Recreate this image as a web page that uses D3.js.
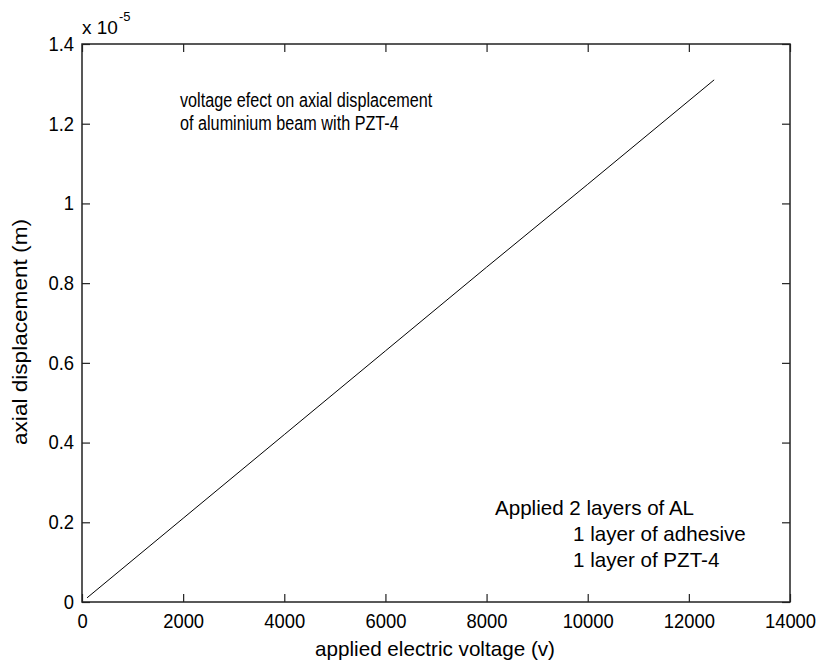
<!DOCTYPE html>
<html>
<head>
<meta charset="utf-8">
<script src="https://cdn.jsdelivr.net/npm/d3@7"></script>
<style>
  html, body { margin: 0; padding: 0; background: #fff; }
  svg { display: block; font-family: "Liberation Sans", Arial, sans-serif; }
  .tick text { fill: #000; }
</style>
</head>
<body>
<svg id="chart" width="820" height="664"></svg>
<script>
(function(){

const WIDTH = 820, HEIGHT = 664;
const margin = {left: 82, top: 44, right: 30, bottom: 62};

// data (voltage in V, displacement in units of 1e-5 m)
const voltage = [100, 2000, 4000, 6000, 8000, 10000, 12500];
const displacement = [0.0105, 0.21, 0.42, 0.63, 0.84, 1.048, 1.31];

const xTicks = [0, 2000, 4000, 6000, 8000, 10000, 12000, 14000];
const yTicks = [0, 0.2, 0.4, 0.6, 0.8, 1, 1.2, 1.4];

const titleLines = ['voltage efect on axial displacement', 'of aluminium beam with PZT-4'];
const noteLines = ['Applied 2 layers of AL', '1 layer of adhesive', '1 layer of PZT-4'];

const svg = d3.select('#chart');
const w = WIDTH - margin.left - margin.right;
const h = HEIGHT - margin.top - margin.bottom;

const x = d3.scaleLinear().domain([0, 14000]).range([margin.left, margin.left + w]);
const y = d3.scaleLinear().domain([0, 1.4]).range([margin.top + h, margin.top]);

const fmtY = d => d === 0 ? '0' : String(+d.toFixed(1));
const TICK = 8, FS = 20;

// the original font is a narrow bitmap one: squeeze text horizontally
function squeeze(sel, k){
  sel.each(function(){
    const len = this.getComputedTextLength();
    d3.select(this).attr('textLength', len * k).attr('lengthAdjust', 'spacingAndGlyphs');
  });
}

function styleAxis(g){
  g.select('.domain').remove();
  g.selectAll('.tick line').attr('stroke', '#222').attr('stroke-width', 1.2);
  g.selectAll('.tick text').style('font-size', FS + 'px').call(squeeze, 0.92);
}

// bottom and top
svg.append('g').attr('transform', `translate(0,${margin.top + h})`)
  .call(d3.axisBottom(x).tickValues(xTicks).tickSize(-TICK).tickPadding(12).tickFormat(d3.format('d')))
  .call(styleAxis);
svg.append('g').attr('transform', `translate(0,${margin.top})`)
  .call(d3.axisTop(x).tickValues(xTicks).tickSize(-TICK).tickFormat(''))
  .call(styleAxis);
// left and right
svg.append('g').attr('transform', `translate(${margin.left},0)`)
  .call(d3.axisLeft(y).tickValues(yTicks).tickSize(-TICK).tickPadding(8).tickFormat(fmtY))
  .call(styleAxis);
svg.append('g').attr('transform', `translate(${margin.left + w},0)`)
  .call(d3.axisRight(y).tickValues(yTicks).tickSize(-TICK).tickFormat(''))
  .call(styleAxis);

// box
svg.append('rect')
  .attr('x', margin.left).attr('y', margin.top)
  .attr('width', w).attr('height', h)
  .attr('fill', 'none').attr('stroke', '#222').attr('stroke-width', 1.5);

// line
const line = d3.line().x((d, i) => x(voltage[i])).y(d => y(d));
svg.append('path')
  .datum(displacement)
  .attr('d', line)
  .attr('fill', 'none')
  .attr('stroke', '#000')
  .attr('stroke-width', 1);

// exponent label
const ex = svg.append('text').attr('x', margin.left).attr('y', 34)
  .style('font-size', '19px');
ex.append('tspan').text('x 10');
ex.append('tspan').attr('dy', -13).attr('dx', 1).style('font-size', '13px').text('-5');

// axis labels
svg.append('text')
  .attr('x', margin.left + w / 2 - 1).attr('y', 656)
  .attr('text-anchor', 'middle').style('font-size', '21px')
  .attr('textLength', 240).attr('lengthAdjust', 'spacingAndGlyphs')
  .text('applied electric voltage (v)');
svg.append('text')
  .attr('transform', `translate(27,${margin.top + h / 2 + 9}) rotate(-90)`)
  .attr('text-anchor', 'middle').style('font-size', '20px')
  .attr('textLength', 226).attr('lengthAdjust', 'spacingAndGlyphs')
  .text('axial displacement (m)');

// annotations
svg.append('g').selectAll('text')
  .data(titleLines).join('text')
  .attr('x', 180).attr('y', (d, i) => 107 + i * 23)
  .style('font-size', '20px')
  .text(d => d)
  .call(squeeze, 0.81);

svg.append('g').selectAll('text')
  .data(noteLines).join('text')
  .attr('x', (d, i) => i === 0 ? 495 : 573)
  .attr('y', (d, i) => 515 + i * 26)
  .style('font-size', '21px')
  .text(d => d)
  .call(squeeze, 0.98);

})();
</script>
</body>
</html>
